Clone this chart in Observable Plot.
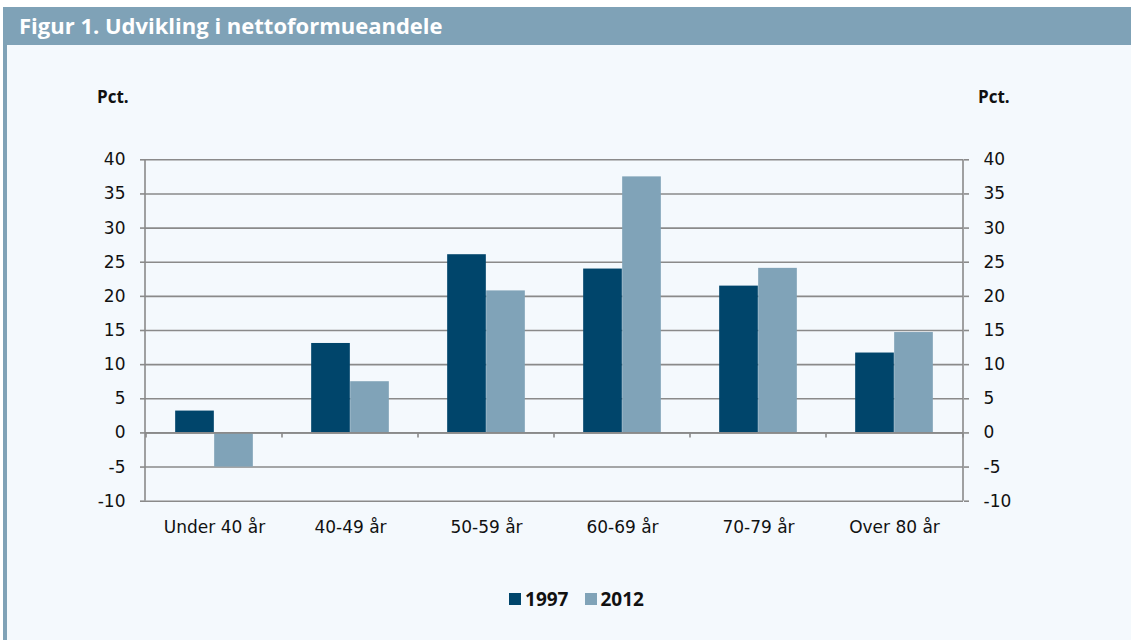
<!DOCTYPE html>
<html>
<head>
<meta charset="utf-8">
<script src="https://cdn.jsdelivr.net/npm/d3@7"></script>
<script src="https://cdn.jsdelivr.net/npm/@observablehq/plot@0.6"></script>
<style>
  html, body { margin: 0; padding: 0; background: #ffffff; }
  body { width: 1131px; height: 640px; position: relative; overflow: hidden; font-family: "Open Sans", "DejaVu Sans", sans-serif; }
  #panel { position: absolute; left: 3px; top: 45px; width: 1128px; height: 595px; background: #f4f9fd; border-left: 4px solid #7fa2b7; box-sizing: border-box; }
  #titlebar { position: absolute; left: 3px; top: 7px; width: 1128px; height: 38px; background: #7fa2b7; }
  #title { position: absolute; left: 19px; top: 10px; color: #ffffff; font-weight: 700; font-size: 22px; line-height: 30px; white-space: nowrap; }
  .pct { position: absolute; top: 85px; font-weight: 700; font-size: 17px; color: #111; }
  #chart { position: absolute; left: 0; top: 0; }
  #legend { position: absolute; top: 586px; left: 0; width: 1131px; display: flex; justify-content: center; padding-left: 22px; box-sizing: border-box; font-weight: 700; font-size: 19px; color: #111; }
  .item { display: flex; align-items: center; margin: 0 8px; }
  .sw { width: 12px; height: 12px; margin-right: 4px; display: inline-block; }
</style>
</head>
<body>
<div id="panel"></div>
<div id="titlebar"></div>
<div id="title">Figur 1. Udvikling i nettoformueandele</div>
<div class="pct" style="left:97px">Pct.</div>
<div class="pct" style="left:978px">Pct.</div>
<div id="chart"></div>
<div id="legend"></div>
<script>
const categories = ["Under 40 år", "40-49 år", "50-59 år", "60-69 år", "70-79 år", "Over 80 år"];
const series = ["1997", "2012"];
const values1997 = [3.2, 13.1, 26.1, 24.0, 21.5, 11.7];
const values2012 = [-5.0, 7.5, 20.8, 37.5, 24.1, 14.7];
const yTicks = [-10, -5, 0, 5, 10, 15, 20, 25, 30, 35, 40];
const colors = ["#00456b", "#80a3b8"];

const rows1997 = categories.map((c, i) => ({cat: c, v: values1997[i]}));
const rows2012 = categories.map((c, i) => ({cat: c, v: values2012[i]}));

const W = 1131, H = 640, ML = 145, MR = 168, MT = 159.3, MB = 139.3;
const bw = (W - ML - MR) / categories.length;
const barW = 39;
const gray = "#8a8a8a";

function frameMarks(index, scales, values, dims) {
  const x = scales.x, y = scales.y;
  const g = d3.create("svg:g").attr("stroke", gray).attr("stroke-width", 1.6).attr("fill", "none");
  const yT = y(40), yB = y(-10), y0 = y(0);
  const left = dims.marginLeft, right = dims.width - dims.marginRight;
  g.append("line").attr("x1", left).attr("x2", left).attr("y1", yT).attr("y2", yB);
  g.append("line").attr("x1", right).attr("x2", right).attr("y1", yT).attr("y2", yB);
  const bounds = categories.map(c => x(c)).concat([right]);
  for (const bx of bounds) {
    g.append("line").attr("x1", bx).attr("x2", bx).attr("y1", y0).attr("y2", y0 + 5);
  }
  return g.node();
}

const fontAxis = "'DejaVu Sans', sans-serif";

const chart = Plot.plot({
  width: W,
  height: H,
  marginLeft: ML,
  marginRight: MR,
  marginTop: MT,
  marginBottom: MB,
  style: {background: "transparent", fontFamily: fontAxis, fontSize: "16px", color: "#111"},
  x: {domain: categories, padding: 0, axis: null},
  y: {domain: [-10, 40], axis: null},
  marks: [
    Plot.ruleY(yTicks, {stroke: gray, strokeWidth: 1.6}),
    Plot.barY(rows1997, {x: "cat", y: "v", fill: colors[0], insetLeft: bw / 2 - barW, insetRight: bw / 2}),
    Plot.barY(rows2012, {x: "cat", y: "v", fill: colors[1], insetLeft: bw / 2, insetRight: bw / 2 - barW}),
    Plot.ruleY([0], {stroke: gray, strokeWidth: 1.6}),
    frameMarks,
    Plot.axisY({anchor: "left", ticks: yTicks, tickSize: 5, tickPadding: 15, stroke: gray, strokeWidth: 1.6, fill: "#111", fontSize: 17, tickFormat: d => String(d), label: null}),
    Plot.axisY({anchor: "right", ticks: yTicks, tickSize: 5, tickPadding: 15, stroke: gray, strokeWidth: 1.6, fill: "#111", fontSize: 17, tickFormat: d => String(d), label: null}),
    Plot.axisX({anchor: "bottom", tickSize: 0, tickPadding: 20, fill: "#111", fontSize: 17, label: null})
  ]
});
document.getElementById("chart").appendChild(chart);

const legend = document.getElementById("legend");
series.forEach((s, i) => {
  const item = document.createElement("div");
  item.className = "item";
  const sw = document.createElement("span");
  sw.className = "sw";
  sw.style.background = colors[i];
  item.appendChild(sw);
  item.appendChild(document.createTextNode(s));
  legend.appendChild(item);
});
</script>
</body>
</html>
